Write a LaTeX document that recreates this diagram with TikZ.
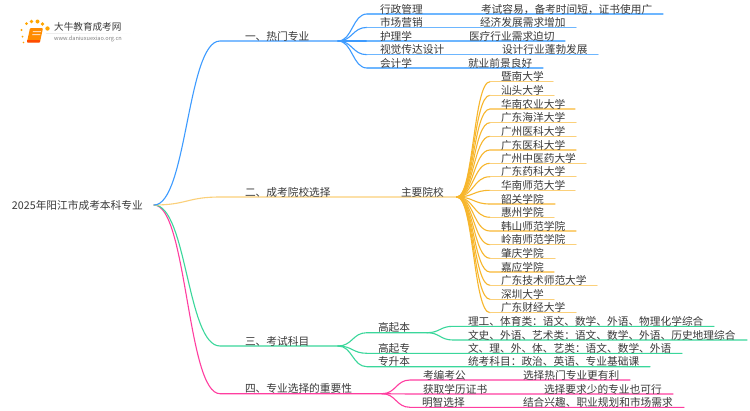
\documentclass[tikz,border=0pt]{standalone}
\usepackage{fontspec}
\setmainfont{Noto Sans CJK SC}
\usetikzlibrary{calc}
\definecolor{cblue}{HTML}{3D9BFF}
\definecolor{cbluel}{HTML}{6DB6FF}
\definecolor{corange}{HTML}{F7B62C}
\definecolor{corangel}{HTML}{FBD07A}
\definecolor{cgreen}{HTML}{3AD79B}
\definecolor{cpink}{HTML}{FF3EA0}
\definecolor{ctext}{HTML}{3A3A3A}
\tikzset{
  lab/.style={anchor=base west,inner sep=0pt,outer sep=0pt,text=ctext,font=\fontsize{10.7}{12}\selectfont},
  wire/.style={line width=1.1pt,line cap=round},
}
% \sbranch{from}{to-start}{to-end}: S-curve then straight line
\newcommand{\sbranch}[4][]{%
  \coordinate (midpt) at ($(#2)!0.5!(#3)$);
  \draw[wire,#1] (#2) .. controls (midpt |- #2) and (midpt |- #3) .. (#3) -- (#4);}
\begin{document}
\begin{tikzpicture}[x=1pt,y=-1pt]
\useasboundingbox (0,0) rectangle (750,410);
\fill[white] (0,0) rectangle (750,410);

% ---- logo
\foreach \px/\py/\r in {21.5/30/1.2,26.5/23.5/1.5,31.5/21.5/1.9,37.5/21.5/2,42.5/24/1.9,47.5/28.5/2.2,22.5/36.5/1,23.5/42.5/.8}
  \fill[orange!70!yellow] (\px,\py) circle (\r);
\fill[orange!90!yellow,rounded corners=1pt] (30,28) -- (43,28) -- (40,42) -- (27,42) -- cycle;
\fill[orange!60!red,rounded corners=.6pt] (27,40) -- (40,40) -- (40,42.5) -- (27,42.5) -- cycle;
\fill[white!70!orange] (33,31) -- (41,31) -- (40.7,32) -- (32.7,32) -- cycle;
\fill[white!70!orange] (32.5,34) -- (40.4,34) -- (40.1,35) -- (32.2,35) -- cycle;
\shade[left color=gray!15,right color=white,draw=none] (46,33) rectangle (133,33.6);
\node[anchor=base west,inner sep=0,text=ctext,font=\fontsize{9.6}{11}\selectfont] (logotitle) at (54,30) {大牛教育成考网};
\node[anchor=base west,inner sep=0,text=gray,font=\fontsize{5.6}{7}\selectfont] (logourl) at (54,40.5) {www.daniuxuexiao.org.cn};

% ---- root
\node[lab] (root) at (12,209) {2025年阳江市成考本科专业};
\coordinate (hub) at (154,205);

% ---- level 1
\coordinate (b1) at (220,41);  \coordinate (b1e) at (338,41);
\coordinate (b2) at (220,197); \coordinate (b2e) at (457,197);
\coordinate (b3) at (220,346); \coordinate (b3e) at (338,346);
\coordinate (b4) at (220,393.7); \coordinate (b4e) at (382,393.7);
\sbranch[cpink]{hub}{b4}{b4e}
\sbranch[cgreen]{hub}{b3}{b3e}
\sbranch[corangel]{hub}{b2}{b2e}
\sbranch[cblue]{hub}{b1}{b1e}
\node[lab] (n1) at (245,40) {一、热门专业};
\node[lab] (n2) at (245,196) {二、成考院校选择};
\node[lab] (n3) at (245,345) {三、考试科目};
\node[lab] (n4) at (245,392.7) {四、专业选择的重要性};
\node[lab] (n2a) at (401,196) {主要院校};

% ---- blue leaves
\foreach \y/\xe/\ta/\xb/\tb [count=\i] in {
  14/663/行政管理/380/考试容易，备考时间短，证书使用广,
  27.4/576/市场营销/380/经济发展需求增加,
  41/565/护理学/380/医疗行业需求迫切,
  54.7/598/视觉传达设计/380/设计行业蓬勃发展,
  68/543/会计学/380/就业前景良好}{
  \coordinate (bs\i) at (367,\y);
  \coordinate (be\i) at (\xe,\y);
  \sbranch[cblue]{b1e}{bs\i}{bs\i}
  \draw[wire,cbluel] (bs\i) -- (be\i);
}
\node[lab] (bl1) at (380,13) {行政管理};
\node[lab] (bl2) at (380,26.4) {市场营销};
\node[lab] (bl3) at (380,40) {护理学};
\node[lab] (bl4) at (380,53.7) {视觉传达设计};
\node[lab] (bl5) at (380,67) {会计学};
\node[lab] (br1) at (481,13) {考试容易，备考时间短，证书使用广};
\node[lab] (br2) at (480,26.4) {经济发展需求增加};
\node[lab] (br3) at (469,40) {医疗行业需求迫切};
\node[lab] (br4) at (502,53.7) {设计行业蓬勃发展};
\node[lab] (br5) at (468,67) {就业前景良好};

% ---- orange leaves
\foreach \y/\xe/\t [count=\i] in {
  81.7/553/暨南大学,95.3/554/汕头大学,109/575/华南农业大学,122.7/576/广东海洋大学,
  136.3/576/广州医科大学,150/576/广东医科大学,163.3/586/广州中医药大学,176.7/576/广东药科大学,
  190.3/575/华南师范大学,204/555/韶关学院,217.3/554/惠州学院,231/576/韩山师范学院,
  244.7/576/岭南师范学院,258.3/555/肇庆学院,272/554/嘉应学院,285.3/597/广东技术师范大学,
  299.3/554/深圳大学,312.7/576/广东财经大学}{
  \coordinate (os\i) at (490,\y);
  \coordinate (oe\i) at (\xe,\y);
  \sbranch[corange]{b2e}{os\i}{os\i}
  \draw[wire,corangel] (os\i) -- (oe\i);
  \node[lab] (ol\i) at (501,\y-1) {\t};
}

% ---- green branch
\coordinate (g1s) at (367,332.7); \coordinate (g1e) at (427,332.7);
\coordinate (g2s) at (367,353.3); \coordinate (g2e) at (682,353.3);
\coordinate (g3s) at (367,366.7); \coordinate (g3e) at (650,366.7);
\sbranch[cgreen]{b3e}{g1s}{g1e}
\sbranch[cgreen]{b3e}{g2s}{g2e}
\sbranch[cgreen]{b3e}{g3s}{g3e}
\coordinate (g1as) at (453,326.3); \coordinate (g1ae) at (714,326.3);
\coordinate (g1bs) at (453,340);   \coordinate (g1be) at (747,340);
\sbranch[cgreen]{g1e}{g1as}{g1ae}
\sbranch[cgreen]{g1e}{g1bs}{g1be}
\node[lab] (g1) at (378,331.7) {高起本};
\node[lab] (g2) at (378,352.3) {高起专};
\node[lab] (g3) at (378,365.7) {专升本};
\node[lab] (g1a) at (468,325.3) {理工、体育类：语文、数学、外语、物理化学综合};
\node[lab] (g1b) at (468,339) {文史、外语、艺术类：语文、数学、外语、历史地理综合};
\node[lab] (g2a) at (468,352.3) {文、理、外、体、艺类：语文、数学、外语};
\node[lab] (g3a) at (468,365.7) {统考科目：政治、英语、专业基础课};

% ---- pink branch
\foreach \y/\xe [count=\i] in {380/630,394/673,407.3/684}{
  \coordinate (ps\i) at (410,\y);
  \coordinate (pe\i) at (\xe,\y);
  \sbranch[cpink]{b4e}{ps\i}{pe\i}
}
\node[lab] (pl1) at (423,379) {考编考公};
\node[lab] (pl2) at (423,393) {获取学历证书};
\node[lab] (pl3) at (422,406.3) {明智选择};
\node[lab] (pr1) at (523,379) {选择热门专业更有利};
\node[lab] (pr2) at (544,393) {选择要求少的专业也可行};
\node[lab] (pr3) at (523,406.3) {结合兴趣、职业规划和市场需求};
\end{tikzpicture}
\end{document}
